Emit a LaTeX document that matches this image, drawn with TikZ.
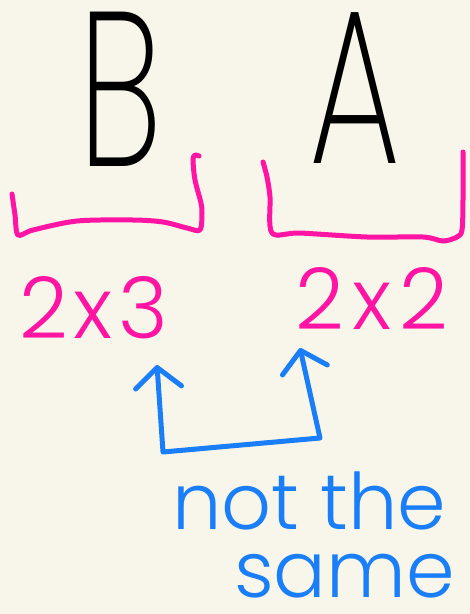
\documentclass[tikz,border=0pt]{standalone}
\usepackage{fontspec}
\usetikzlibrary{arrows.meta}
\newfontfamily\thinf{Poppins}[UprightFont={* ExtraLight}]
\newfontfamily\lightf{Poppins}[UprightFont={* Light}]
\definecolor{paper}{HTML}{F8F6EA}
\definecolor{pinkpen}{HTML}{FF14A4}
\definecolor{bluepen}{HTML}{1A7EF8}
\tikzset{
  pen/.style={line width=5pt, line cap=round, line join=round},
  bigletter/.style={inner sep=0pt, anchor=base, font=\thinf\fontsize{220}{220}\selectfont, xscale=0.66},
  dims/.style={inner sep=0pt, anchor=base, text=pinkpen, font=\lightf\fontsize{85}{85}\selectfont},
  note/.style={inner sep=0pt, anchor=base west, align=left, text=bluepen, font=\lightf\fontsize{78}{68}\selectfont},
  barb/.tip={Straight Barb[length=20pt,width=46pt,line cap=round,line join=round]}
}
\begin{document}
\begin{tikzpicture}[x=1pt,y=-1pt]
\fill[paper] (0,0) rectangle (470,614);
\useasboundingbox (0,0) rectangle (470,614);
% letters
\node[bigletter] (B) at (121,166) {B};
\node[bigletter] (A) at (355,163) {A};
% brackets
\draw[pen, pinkpen] plot[smooth, tension=0.5] coordinates {(12,194) (15,215) (18,235) (33,230) (77,221) (133,220) (163,222) (187,228) (200,230) (202,213) (201,203) (195,180) (193,160) (195,155) (199,156)};
\draw[pen, pinkpen] plot[smooth, tension=0.5] coordinates {(263,162) (267,177) (270,197) (272,233) (300,233) (367,237) (423,237) (443,241) (457,237) (462,230) (463,200) (463,152)};
% dimensions
\node[dims] (d3) at (94,338) {2\hspace{6pt}x\hspace{6pt}3};
\node[dims] (d2) at (372,329) {2\hspace{8pt}x\hspace{8pt}2};
% connector
\coordinate (t3) at (157,365);
\coordinate (c1) at (163,452);
\coordinate (c2) at (320,438);
\coordinate (t2) at (300,348);
\draw[pen, bluepen, {barb}-{barb}] (t3) -- (c1) -- (c2) -- (t2);
% note
\node[note] (n) at (172,597) {not the\\\hspace{62pt}same};
\end{tikzpicture}
\end{document}
